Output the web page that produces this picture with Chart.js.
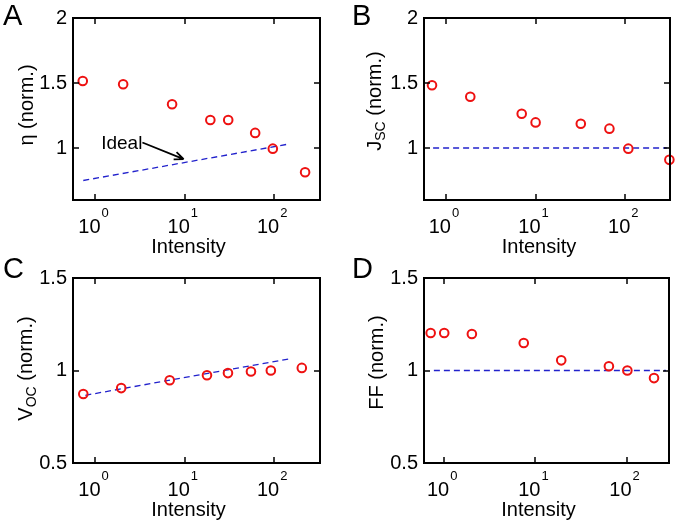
<!DOCTYPE html>
<html>
<head>
<meta charset="utf-8">
<script src="https://cdn.jsdelivr.net/npm/chart.js@4.4.1/dist/chart.umd.min.js"></script>
<style>
  html, body { margin: 0; padding: 0; background: #fff; }
  #wrap { position: relative; width: 677px; height: 526px; }
  #wrap canvas { position: absolute; left: 0; top: 0; }
</style>
</head>
<body>
<div id="wrap">
  <canvas id="chartA" width="677" height="526"></canvas>
  <canvas id="chartB" width="677" height="526"></canvas>
  <canvas id="chartC" width="677" height="526"></canvas>
  <canvas id="chartD" width="677" height="526"></canvas>
</div>
<script>
// =====================
// Data
// =====================

const xTickValues = [1, 10, 100];

// A: efficiency
const intensityA = [0.72, 2.04, 7.2, 19.3, 30.6, 61.3, 96.6, 222];
const etaNorm = [1.515, 1.49, 1.336, 1.215, 1.215, 1.116, 0.995, 0.813];
const idealEtaX = [0.73, 139];
const idealEtaY = [0.75, 1.028];

// B: short-circuit current
const intensityB = [0.70, 1.87, 7.0, 10.0, 31.9, 66.5, 108, 310];
const jscNorm = [1.483, 1.394, 1.263, 1.197, 1.187, 1.149, 0.995, 0.909];
const idealJscX = [0.72, 290];
const idealJscY = [1, 1];

// C: open-circuit voltage
const intensityC = [0.73, 1.94, 6.77, 17.7, 30.4, 55, 91.8, 204];
const vocNorm = [0.873, 0.905, 0.947, 0.974, 0.986, 0.995, 1.0, 1.014];
const idealVocX = [0.77, 144];
const idealVocY = [0.866, 1.062];

// D: fill factor
const intensityD = [0.71, 1.0, 2.01, 7.45, 19.2, 64, 102, 200];
const ffNorm = [1.203, 1.203, 1.197, 1.149, 1.055, 1.023, 1.0, 0.959];
const idealFfX = [0.77, 270];
const idealFfY = [1, 1];

const yTicksTop = [1, 1.5, 2];
const yTicksBottom = [0.5, 1, 1.5];

// =====================
// Styles
// =====================

const FONT = '"Liberation Sans", Arial, Helvetica, sans-serif';
const RED = '#ee1111';
const BLUE = '#2222cc';
const Y_AXIS_W = 73;
const X_AXIS_H = 63;
const W = 677, H = 526;

// =====================
// Decorations: box, inward ticks, labels with super/subscripts
// =====================

function paintFrame(chart, p) {
  const ctx = chart.ctx;
  const a = chart.chartArea;
  const xs = chart.scales.x, ys = chart.scales.y;
  const L = Math.round(a.left), R = Math.round(a.right);
  const T = Math.round(a.top), B = Math.round(a.bottom);
  ctx.save();
  ctx.setLineDash([]);
  ctx.globalAlpha = 1;
  ctx.fillStyle = '#000';
  // inward tick marks
  xTickValues.forEach(v => {
    const px = Math.round(xs.getPixelForValue(v));
    ctx.fillRect(px - 0.75, B - 6, 1.5, 6);
    ctx.fillRect(px - 0.75, T, 1.5, 6);
  });
  p.yTicks.forEach(v => {
    const py = Math.round(ys.getPixelForValue(v));
    ctx.fillRect(L, py - 0.75, 6, 1.5);
    ctx.fillRect(R - 6, py - 0.75, 6, 1.5);
  });
  // box
  ctx.fillRect(L - 1, T - 1, R - L + 2, 2);
  ctx.fillRect(L - 1, B - 1, R - L + 2, 2);
  ctx.fillRect(L - 1, T - 1, 2, B - T + 2);
  ctx.fillRect(R - 1, T - 1, 2, B - T + 2);
  ctx.restore();
}

function makeDecor(p) {
  return {
    id: 'decor',
    afterDraw(chart) {
      paintFrame(chart, p);
      const { ctx, chartArea: a, scales: { x, y } } = chart;
      ctx.save();
      ctx.fillStyle = '#000';
      ctx.textBaseline = 'alphabetic';
      ctx.textAlign = 'left';

      // x tick labels 10^n
      xTickValues.forEach(v => {
        const px = x.getPixelForValue(v);
        const sup = String(Math.round(Math.log10(v)));
        ctx.font = '20px ' + FONT;
        const wm = ctx.measureText('10').width;
        ctx.font = '13px ' + FONT;
        const ws = ctx.measureText(sup).width;
        const start = px - (wm + ws + 1) / 2 - 2;
        ctx.font = '20px ' + FONT;
        ctx.fillText('10', start, a.bottom + 33);
        ctx.font = '13px ' + FONT;
        ctx.fillText(sup, start + wm + 1, a.bottom + 16.7);
      });

      // x title
      ctx.font = '20px ' + FONT;
      ctx.textAlign = 'center';
      ctx.fillText('Intensity', (a.left + a.right) / 2 - 8, a.bottom + 53);

      // y title (rotated, with subscript parts)
      ctx.textAlign = 'left';
      const segs = p.yTitle.map(s => {
        ctx.font = (s.sub ? '14px ' : '20px ') + FONT;
        return { t: s.t, sub: s.sub, w: ctx.measureText(s.t).width };
      });
      const total = segs.reduce((t, s) => t + s.w, 0);
      ctx.save();
      ctx.translate(a.left - p.titleGap, (a.top + a.bottom) / 2 + p.titleShift);
      ctx.rotate(-Math.PI / 2);
      let cx = -total / 2;
      segs.forEach(s => {
        ctx.font = (s.sub ? '14px ' : '20px ') + FONT;
        ctx.fillText(s.t, cx, s.sub ? 4 : 0);
        cx += s.w;
      });
      ctx.restore();

      // panel letter
      ctx.font = '29px ' + FONT;
      ctx.fillText(p.letter, p.letterX, p.letterY);

      // annotation arrow
      if (p.note) {
        const n = p.note;
        const sx = x.getPixelForValue(n.from[0]), sy = y.getPixelForValue(n.from[1]);
        const ex = x.getPixelForValue(n.to[0]), ey = y.getPixelForValue(n.to[1]);
        ctx.font = '19px ' + FONT;
        ctx.textAlign = 'right';
        ctx.fillText(n.text, sx, y.getPixelForValue(n.textY));
        ctx.strokeStyle = '#000';
        ctx.lineWidth = 1.8;
        ctx.beginPath();
        ctx.moveTo(sx, sy); ctx.lineTo(ex, ey);
        const ang = Math.atan2(ey - sy, ex - sx);
        ctx.moveTo(ex, ey);
        ctx.lineTo(ex - 10 * Math.cos(ang - 0.4), ey - 10 * Math.sin(ang - 0.4));
        ctx.moveTo(ex, ey);
        ctx.lineTo(ex - 10 * Math.cos(ang + 0.4), ey - 10 * Math.sin(ang + 0.4));
        ctx.stroke();
      }
      ctx.restore();
    }
  };
}

// =====================
// Panel builder
// =====================

function makePanel(id, p) {
  const points = p.x.map((v, i) => ({ x: v, y: p.y[i] }));
  const line = p.lineX.map((v, i) => ({ x: v, y: p.lineY[i] }));
  return new Chart(document.getElementById(id), {
    type: 'scatter',
    data: {
      datasets: [
        {
          data: line, showLine: true, borderColor: BLUE, borderWidth: 1.3,
          borderDash: [6, 4], pointRadius: 0, clip: false, order: 2
        },
        {
          data: points, pointRadius: 4.3, borderWidth: 2, borderColor: RED,
          backgroundColor: 'rgba(0,0,0,0)', clip: false, order: 1
        }
      ]
    },
    options: {
      responsive: false,
      animation: false,
      events: [],
      layout: {
        padding: {
          left: p.area.left - Y_AXIS_W,
          top: p.area.top,
          right: W - p.area.right,
          bottom: H - p.area.bottom - X_AXIS_H
        }
      },
      plugins: { legend: { display: false }, tooltip: { enabled: false } },
      scales: {
        x: {
          type: 'logarithmic', min: p.xMin, max: p.xMax,
          grid: { display: false, drawTicks: false }, border: { display: false },
          ticks: { display: false },
          afterBuildTicks: s => { s.ticks = xTickValues.map(v => ({ value: v })); },
          afterFit: s => { s.height = X_AXIS_H; }
        },
        y: {
          type: 'linear', min: p.yMin, max: p.yMax,
          grid: { display: false, drawTicks: false }, border: { display: false },
          ticks: { color: '#000', font: { family: FONT, size: 20 }, padding: 6, callback: v => String(v) },
          afterBuildTicks: s => { s.ticks = p.yTicks.map(v => ({ value: v })); },
          afterFit: s => { s.width = Y_AXIS_W; }
        }
      }
    },
    plugins: [makeDecor(p)]
  });
}

makePanel('chartA', {
  x: intensityA, y: etaNorm, lineX: idealEtaX, lineY: idealEtaY,
  xMin: 0.56, xMax: 326, yMin: 0.6, yMax: 2, yTicks: yTicksTop,
  area: { left: 73, top: 15, right: 320, bottom: 200 },
  yTitle: [{ t: 'η (norm.)' }], titleGap: 40.5, titleShift: -4,
  letter: 'A', letterX: 3, letterY: 25,
  note: { text: 'Ideal', from: [3.35, 1.042], to: [9.7, 0.914], textY: 0.992 }
});

makePanel('chartB', {
  x: intensityB, y: jscNorm, lineX: idealJscX, lineY: idealJscY,
  xMin: 0.57, xMax: 315, yMin: 0.6, yMax: 2, yTicks: yTicksTop,
  area: { left: 424, top: 15, right: 670, bottom: 200 },
  yTitle: [{ t: 'J' }, { t: 'SC', sub: true }, { t: ' (norm.)' }], titleGap: 43, titleShift: -8,
  letter: 'B', letterX: 352, letterY: 25
});

makePanel('chartC', {
  x: intensityC, y: vocNorm, lineX: idealVocX, lineY: idealVocY,
  xMin: 0.56, xMax: 326, yMin: 0.5, yMax: 1.5, yTicks: yTicksBottom,
  area: { left: 73, top: 278, right: 320, bottom: 463 },
  yTitle: [{ t: 'V' }, { t: 'OC', sub: true }, { t: ' (norm.)' }], titleGap: 41, titleShift: -2,
  letter: 'C', letterX: 3, letterY: 278
});

makePanel('chartD', {
  x: intensityD, y: ffNorm, lineX: idealFfX, lineY: idealFfY,
  xMin: 0.60, xMax: 292, yMin: 0.5, yMax: 1.5, yTicks: yTicksBottom,
  area: { left: 424, top: 278, right: 669, bottom: 463 },
  yTitle: [{ t: 'FF (norm.)' }], titleGap: 41, titleShift: -8,
  letter: 'D', letterX: 352, letterY: 278
});
</script>
</body>
</html>
